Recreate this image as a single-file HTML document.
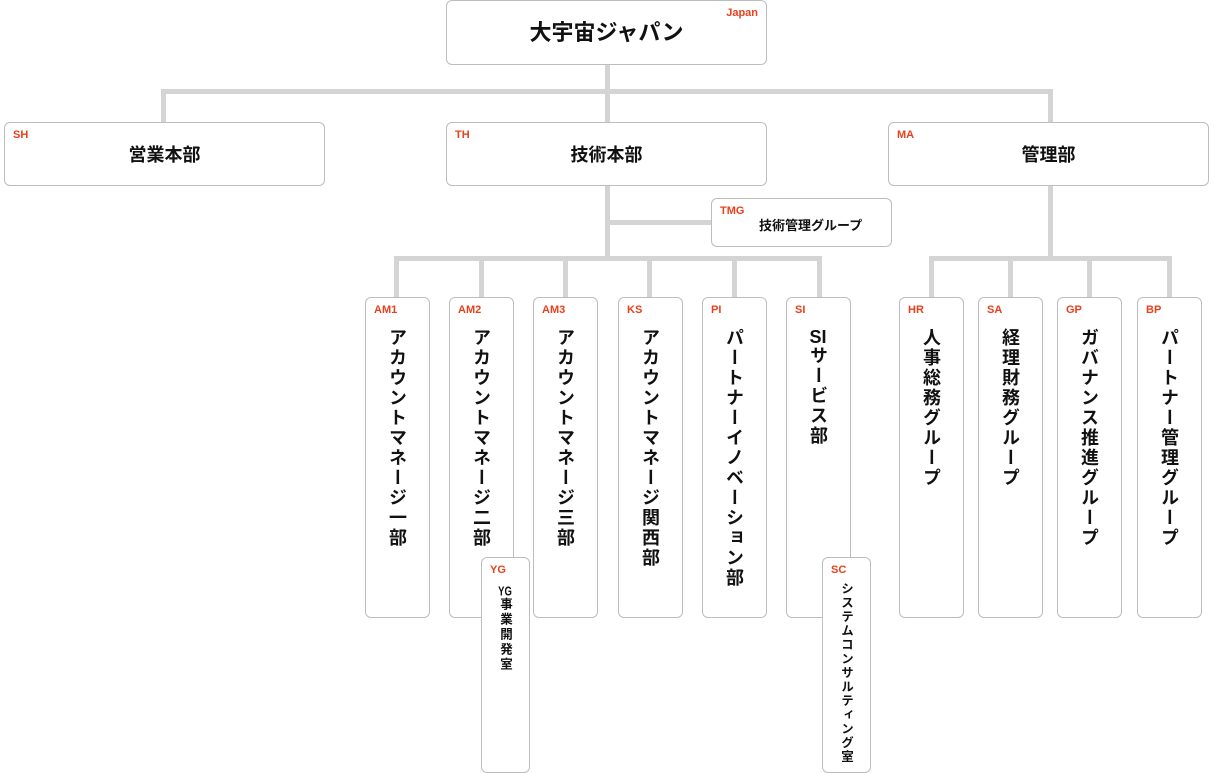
<!DOCTYPE html>
<html><head><meta charset="utf-8"><style>
body{margin:0;width:1215px;height:771px;background:#fff;position:relative;overflow:hidden;font-family:"Liberation Sans","Noto Sans CJK JP",sans-serif}
.b{position:absolute;box-sizing:border-box;border:1px solid #bdbdbd;border-radius:6px;background:#fff}
.l{position:absolute;background:#d4d4d4}
.t{position:absolute;color:#e8401c;font-weight:bold;font-size:11px;left:8px;top:6px}
.c{position:absolute;left:0;right:0;text-align:center;font-weight:bold;color:#111}
.v{position:absolute;left:0;right:0;top:30px;margin:auto;writing-mode:vertical-rl;text-orientation:upright;font-size:18px;font-weight:bold;color:#111;line-height:64px;height:300px;letter-spacing:2px}
.vs{position:absolute;left:0;right:0;top:24px;writing-mode:vertical-rl;text-orientation:upright;font-size:12.5px;font-weight:bold;color:#111;line-height:48px;letter-spacing:1.5px}
</style></head><body>
<div class="l" style="left:605px;top:64px;width:5px;height:58px"></div>
<div class="l" style="left:161px;top:89px;width:892px;height:5px"></div>
<div class="l" style="left:161px;top:89px;width:5px;height:33px"></div>
<div class="l" style="left:1048px;top:89px;width:5px;height:33px"></div>
<div class="l" style="left:605px;top:185px;width:5px;height:75px"></div>
<div class="l" style="left:605px;top:220px;width:106px;height:5px"></div>
<div class="l" style="left:394px;top:256px;width:428px;height:5px"></div>
<div class="l" style="left:394px;top:256px;width:5px;height:41px"></div>
<div class="l" style="left:479px;top:256px;width:5px;height:41px"></div>
<div class="l" style="left:563px;top:256px;width:5px;height:41px"></div>
<div class="l" style="left:647px;top:256px;width:5px;height:41px"></div>
<div class="l" style="left:732px;top:256px;width:5px;height:41px"></div>
<div class="l" style="left:817px;top:256px;width:5px;height:41px"></div>
<div class="l" style="left:1048px;top:185px;width:5px;height:75px"></div>
<div class="l" style="left:929px;top:256px;width:243px;height:5px"></div>
<div class="l" style="left:929px;top:256px;width:5px;height:41px"></div>
<div class="l" style="left:1008px;top:256px;width:5px;height:41px"></div>
<div class="l" style="left:1087px;top:256px;width:5px;height:41px"></div>
<div class="l" style="left:1167px;top:256px;width:5px;height:41px"></div>

<div class="b" style="left:446px;top:0;width:321px;height:65px"><span class="t" style="left:auto;right:8px">Japan</span><div class="c" style="top:14px;font-size:22px">大宇宙ジャパン</div></div>
<div class="b" style="left:4px;top:122px;width:321px;height:64px"><span class="t">SH</span><div class="c" style="top:18px;font-size:18px">営業本部</div></div>
<div class="b" style="left:446px;top:122px;width:321px;height:64px"><span class="t">TH</span><div class="c" style="top:18px;font-size:18px">技術本部</div></div>
<div class="b" style="left:888px;top:122px;width:321px;height:64px"><span class="t">MA</span><div class="c" style="top:18px;font-size:18px">管理部</div></div>
<div class="b" style="left:711px;top:198px;width:181px;height:49px"><span class="t">TMG</span><div style="position:absolute;left:47px;top:16px;font-size:13px;font-weight:bold;color:#111">技術管理グループ</div></div>

<div class="b" style="left:365px;top:297px;width:65px;height:321px"><span class="t">AM1</span><div class="v">アカウントマネージ一部</div></div>
<div class="b" style="left:449px;top:297px;width:65px;height:321px"><span class="t">AM2</span><div class="v">アカウントマネージ二部</div></div>
<div class="b" style="left:533px;top:297px;width:65px;height:321px"><span class="t">AM3</span><div class="v">アカウントマネージ三部</div></div>
<div class="b" style="left:618px;top:297px;width:65px;height:321px"><span class="t">KS</span><div class="v">アカウントマネージ関西部</div></div>
<div class="b" style="left:702px;top:297px;width:65px;height:321px"><span class="t">PI</span><div class="v">パートナーイノベーション部</div></div>
<div class="b" style="left:786px;top:297px;width:65px;height:321px"><span class="t">SI</span><div class="v" style="text-orientation:mixed"><span style="text-combine-upright:all">SI</span>サービス部</div></div>
<div class="b" style="left:481px;top:557px;width:49px;height:216px"><span class="t">YG</span><div class="vs" style="top:27px;letter-spacing:2.5px"><span style="text-combine-upright:all">YG</span>事業開発室</div></div>
<div class="b" style="left:822px;top:557px;width:49px;height:216px"><span class="t">SC</span><div class="vs">システムコンサルティング室</div></div>

<div class="b" style="left:899px;top:297px;width:65px;height:321px"><span class="t">HR</span><div class="v">人事総務グループ</div></div>
<div class="b" style="left:978px;top:297px;width:65px;height:321px"><span class="t">SA</span><div class="v">経理財務グループ</div></div>
<div class="b" style="left:1057px;top:297px;width:65px;height:321px"><span class="t">GP</span><div class="v">ガバナンス推進グループ</div></div>
<div class="b" style="left:1137px;top:297px;width:65px;height:321px"><span class="t">BP</span><div class="v">パートナー管理グループ</div></div>
</body></html>
